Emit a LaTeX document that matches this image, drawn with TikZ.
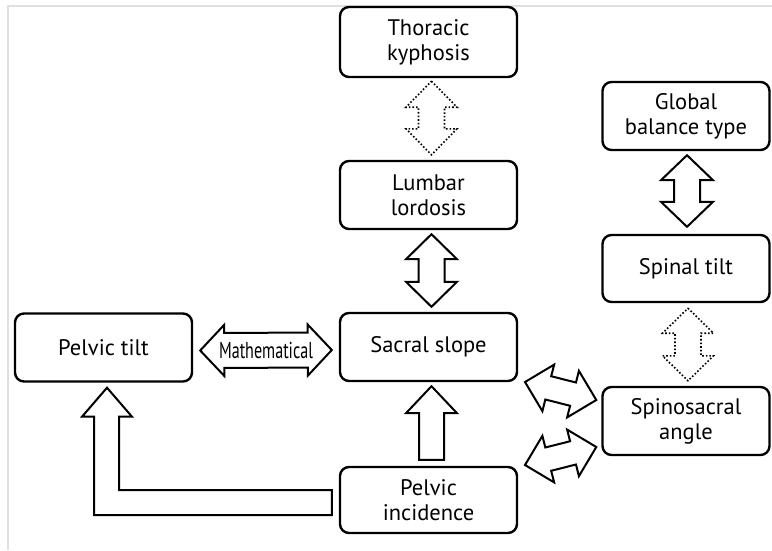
\documentclass[tikz,border=0pt]{standalone}
\usepackage{fontspec}
\usepackage{graphicx}
\setmainfont{PT Sans}
\usetikzlibrary{calc}
\newcommand{\dblarr}[6][]{%
\draw[#1] (#2) -- ($(#2)!#4!(#3)!#5!90:(#3)$) -- ($(#2)!#4!(#3)!#6!90:(#3)$)
 -- ($(#3)!#4!(#2)!#6!-90:(#2)$) -- ($(#3)!#4!(#2)!#5!-90:(#2)$) -- (#3)
 -- ($(#3)!#4!(#2)!#5!90:(#2)$) -- ($(#3)!#4!(#2)!#6!90:(#2)$)
 -- ($(#2)!#4!(#3)!#6!-90:(#3)$) -- ($(#2)!#4!(#3)!#5!-90:(#3)$) -- cycle;}
\newcommand{\sglarr}[6][]{%
\draw[#1] (#3) -- ($(#3)!#4!(#2)!#5!90:(#2)$) -- ($(#3)!#4!(#2)!#6!90:(#2)$)
 -- ($(#2)!#6!-90:(#3)$) -- ($(#2)!#6!90:(#3)$)
 -- ($(#3)!#4!(#2)!#6!-90:(#2)$) -- ($(#3)!#4!(#2)!#5!-90:(#2)$) -- cycle;}
\begin{document}
\begin{tikzpicture}[x=1pt,y=-1pt,
  box/.style={draw, line width=2.4pt, rounded corners=9pt, minimum height=68pt,
    align=center, font=\fontsize{22.5}{25}\selectfont, inner sep=2pt},
  lbox/.style={box, minimum width=177pt},
  rbox/.style={box, minimum width=167pt},
  barr/.style={draw, line width=2pt, line join=miter, fill=white},
  darr/.style={draw, line width=1.6pt, dotted, fill=white},
  frame/.style={draw=black!12, line width=1.2pt}]
\useasboundingbox (0,0) rectangle (772,550);
\draw[frame] (8,550) -- (8,6) -- (772,6);

\node[lbox, minimum height=70pt] (tk) at (428.5,42) {Thoracic\\kyphosis};
\node[lbox] (ll) at (428.5,195) {Lumbar\\lordosis};
\node[lbox] (ss) at (428.5,347) {Sacral slope};
\node[lbox] (pt) at (103.5,347.5) {Pelvic tilt};
\node[lbox, minimum height=66pt] (pi) at (428.5,500) {Pelvic\\incidence};
\node[rbox] (gb) at (686,116) {Global\\balance type};
\node[rbox, minimum height=67pt] (st) at (686,268.5) {Spinal tilt};
\node[rbox] (sa) at (686,421) {Spinosacral\\angle};

% vertical double arrows
\coordinate (a1) at ($(tk.south)+(3,3)$);
\coordinate (b1) at ($(ll.north)+(3,-5)$);
\dblarr[darr]{a1}{b1}{26pt}{25.5pt}{13pt}
\coordinate (a2) at ($(ll.south)+(3,4)$);
\coordinate (b2) at ($(ss.north)+(3,-5)$);
\dblarr[barr]{a2}{b2}{25pt}{25.5pt}{13pt}
\coordinate (a3) at ($(gb.south)+(1,4)$);
\coordinate (b3) at ($(st.north)+(1,-7)$);
\dblarr[barr]{a3}{b3}{25pt}{26pt}{13pt}
\coordinate (a4) at ($(st.south)+(2,5)$);
\coordinate (b4) at ($(sa.north)+(2,-5)$);
\dblarr[darr]{a4}{b4}{25pt}{25.5pt}{13pt}

% Mathematical arrow
\coordinate (m1) at ($(pt.east)+(7,3)$);
\coordinate (m2) at ($(ss.west)+(-7,3)$);
\dblarr[barr]{m1}{m2}{24pt}{25.5pt}{17.5pt}
\node[font=\fontsize{23}{25}\selectfont, inner sep=0pt] (mt) at ($(m1)!0.5!(m2)$) {\scalebox{0.7}[1]{Mathematical}};

% single up arrow pelvic incidence -> sacral slope
\coordinate (u1) at ($(pi.north)+(3,-6)$);
\coordinate (u2) at ($(ss.south)+(3,4)$);
\sglarr[barr]{u1}{u2}{27pt}{25.5pt}{12.5pt}

% diagonal arrows
\coordinate (d1) at (525,382);
\coordinate (d2) at ($(sa.west)+(-5,-21)$);
\dblarr[barr]{d1}{d2}{24pt}{24pt}{12pt}
\coordinate (d3) at (525,465);
\coordinate (d4) at ($(sa.west)+(-5,26)$);
\dblarr[barr]{d3}{d4}{24pt}{24pt}{12pt}

% L-shaped arrow pelvic incidence -> pelvic tilt
\coordinate (lt) at ($(pt.south)+(3.5,5)$);
\coordinate (le) at ($(pi.west)+(-7,0)$);
\draw[barr] (lt) -- ++(25,29) -- ++(-13,0) |- ($(le)+(0,-10)$) -- ($(le)+(0,15)$)
  -| ($(lt)+(-13,29)$) -- ++(-12,0) -- cycle;
\end{tikzpicture}
\end{document}
